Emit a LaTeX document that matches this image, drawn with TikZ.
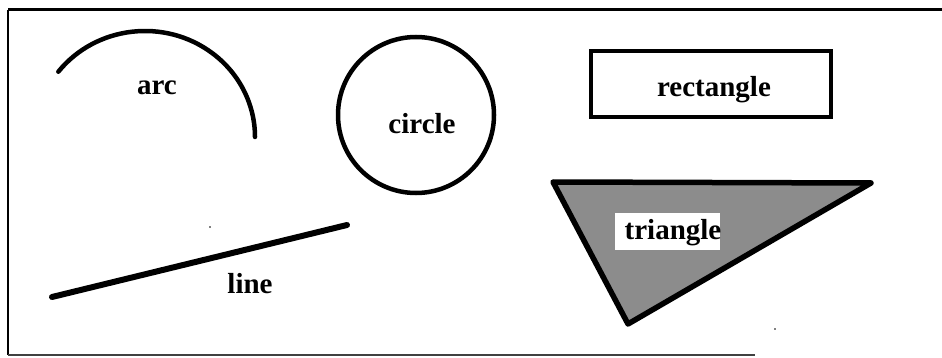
\documentclass[tikz,border=0pt]{standalone}
\usepackage{fontspec}
\setmainfont{Liberation Serif}
\begin{document}
\begin{tikzpicture}[x=1pt,y=-1pt,
  shapeline/.style={line width=4.5pt,line cap=round,line join=round},
  lbl/.style={font=\fontsize{29}{32}\selectfont\bfseries,inner sep=0pt}]
\useasboundingbox (0,0) rectangle (942,358);
% frame
\draw[line width=3pt] (8,10) -- (942,10);
\draw[line width=2pt] (8,10) -- (8,355);
\draw[line width=2pt,black!75] (8,355) -- (755,355);
% arc
\draw[shapeline] (145,137) ++(-142:110 and 106) arc[start angle=-142,end angle=0,x radius=110,y radius=106];
\node[lbl] (arc) at (157,88) {arc};
% circle
\node[draw,circle,line width=4.5pt,minimum size=156pt,inner sep=0pt] (circ) at (416,115) {};
\node[lbl] (circlelbl) at (422,124) {circle};
% rectangle
\node[draw,line width=4.5pt,minimum width=240pt,minimum height=66pt,inner sep=0pt] (rect) at (711,84) {};
\node[lbl] (rectlbl) at (714,90) {rectangle};
% line
\coordinate (l1) at (52,297);
\coordinate (l2) at (347,225);
\draw[shapeline,line width=6pt] (l1) -- (l2);
\node[lbl] (linelbl) at (250,284) {line};
% triangle
\coordinate (t1) at (553,182);
\coordinate (t2) at (871,183);
\coordinate (t3) at (628,324);
\draw[shapeline,line width=5.5pt,fill=black!45] (t1) -- (t2) -- (t3) -- cycle;
\fill[white] (615,213) rectangle (720,250);
\node[lbl] (trilbl) at (673,233) {triangle};
% specks
\fill (210,227) circle (0.8pt);
\fill (775,329) circle (0.8pt);
\end{tikzpicture}
\end{document}
